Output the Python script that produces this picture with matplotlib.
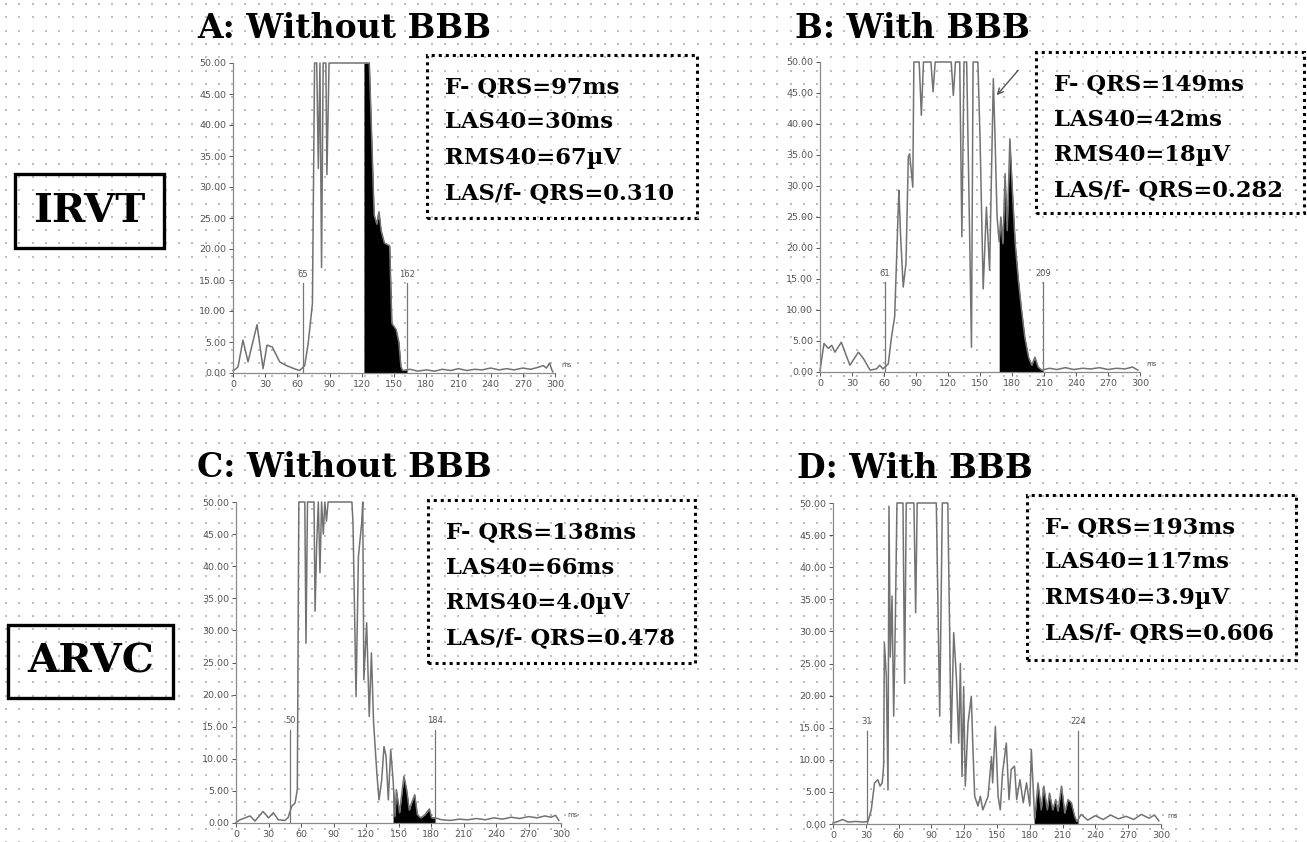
import numpy as np
import matplotlib
matplotlib.use("Agg")
import matplotlib.pyplot as plt
from matplotlib.patches import Rectangle

W, H = 1307, 842

# ---- data (time in ms, amplitude in uV) ----
t_a = [0, 1.5, 4.7, 9.3, 14, 22.4, 28, 31.7, 36.6, 43.5, 49.7, 57, 62, 66.8, 70, 74, 76, 78,
       79.5, 81, 82.5, 84, 86.5, 87.5, 89.5, 120.5, 127, 131.5, 134, 136, 138, 141, 146, 148,
       152, 154.5, 156.5, 158, 165, 172, 180, 188, 195, 203, 210, 218, 225, 232, 240, 248,
       255, 262, 270, 277, 284, 289, 292, 295, 297, 298]
v_a = [0.4, 0.5, 1.0, 5.3, 1.8, 7.8, 0.7, 4.5, 4.2, 1.8, 1.2, 0.7, 0.4, 1.2, 4.7, 11.2, 50, 50,
       33, 50, 17, 50, 50, 32, 50, 50, 50, 25.5, 24, 26, 23, 21, 20.5, 8,
       7, 5, 1.0, 0.4, 0.6, 0.3, 0.5, 0.3, 0.6, 0.4, 0.7, 0.4, 0.6, 0.5, 0.8, 0.5,
       0.7, 0.5, 0.8, 0.6, 0.9, 1.2, 0.8, 1.6, 0.5, 0.2]

t_b = [0, 3.75, 7.8, 11, 14, 20, 28, 36, 40.6, 47, 53, 56, 59, 64, 67, 70, 73.4, 74, 75.6,
       78, 80.6, 82.8, 84, 87, 88, 93, 95, 97, 104, 106, 108, 123, 125, 127, 131, 133, 135,
       137.5, 140.5, 142, 143.5, 148, 150, 153, 156, 159, 162.5, 164, 166, 168, 169.5, 171.5,
       173.5, 175.5, 178, 180, 183, 186, 189, 192, 195.5, 198.5, 201.5, 204.5, 208, 215,
       222, 230, 238, 246, 254, 262, 270, 278, 286, 293, 298]
v_b = [0.2, 4.6, 3.8, 4.3, 3.2, 4.8, 1.1, 3.2, 2.2, 0.3, 0.5, 1.1, 0.5, 1.3, 5.6, 8.9, 26.6, 29.3, 21.8,
       13.7, 17.5, 34.7, 35.2, 29.8, 50, 50, 41.4, 50, 50, 45.2, 50, 50, 44.6, 50, 50, 21.8, 50,
       50, 20, 4, 50, 50, 38, 13.4, 26.6, 16.4, 47.3, 38.4, 25, 21, 25, 20.7,
       32, 22.8, 37.6, 30.4, 20.7, 14.8, 9.9, 5.6, 2.4, 1.1, 2.4, 0.8, 0.3, 0.6,
       0.4, 0.7, 0.4, 0.6, 0.5, 0.7, 0.4, 0.6, 0.5, 0.8, 0.3]

t_c = [0, 3.7, 8.3, 13, 17.5, 25, 30, 34.5, 39, 45, 48, 51.4, 54.5, 56.6, 58, 63.5, 64.6, 66,
       72, 73, 74.5, 76, 77.5, 79, 80.6, 82, 83.5, 85, 107, 108, 110.8, 113, 116, 117, 118, 120.6,
       123, 125, 127, 130, 132, 134.5, 136.6, 138.5, 140.6, 142.8, 145, 146.8, 148, 151, 155,
       157.5, 160, 162, 165, 167.4, 170.5, 174.5, 178.5, 180.6, 183.7, 190, 198, 206, 214,
       222, 230, 238, 246, 254, 262, 270, 278, 285, 291, 295, 298]
v_c = [0.1, 0.5, 0.8, 1.1, 0.3, 1.8, 0.8, 1.6, 0.5, 0.4, 0.8, 2.6, 3.1, 5.2, 50, 50, 28, 50,
       50, 33, 43.6, 50, 39, 50, 45, 50, 47, 50, 50, 46.7, 19.7, 41.5, 46.7, 50, 22.3, 31.2,
       16.6, 26.5, 15.6, 7.8, 3.6, 6.7, 11.9, 10.4, 3.6, 11.4, 6.7, 1.0, 5.2, 1.6, 7.3,
       5.2, 2.0, 3.1, 4.4, 1.3, 0.8, 1.3, 2.2, 0.8, 0.8, 0.5, 0.4, 0.6, 0.5,
       0.7, 0.5, 0.8, 0.6, 0.9, 0.7, 1.0, 0.8, 1.1, 0.9, 1.2, 0.4]

t_d = [0, 4.6, 9, 13.7, 21, 27.4, 32, 35, 38, 41, 43, 45, 46.3, 47, 48.8, 50.3, 51.2, 52.4, 54,
       55.5, 57, 58.5, 64, 65.5, 67, 74, 75.6, 77, 94.5, 97.6, 100, 105, 106.7, 108, 110.4,
       112.8, 115, 116.5, 118, 119.5, 121, 123.5, 126.5, 128, 129.6, 132.6, 134.8, 137, 139.6,
       141.8, 145, 146, 148.5, 151, 153, 155, 158.5, 161, 163, 166, 168, 171, 174, 177, 180,
       181.4, 184.5, 187.5, 190.5, 192.7, 196, 198, 201, 203.7, 205.8, 209, 212, 215, 218,
       221, 223, 227, 233, 240, 247, 254, 261, 268, 275, 282, 289, 294, 298]
v_d = [0.15, 0.4, 0.7, 0.3, 0.4, 0.3, 0.4, 2.2, 6.4, 6.9, 5.9, 6.4, 9, 28.2, 23, 5.3, 49.5, 26, 35.5,
       16.8, 31.3, 50, 50, 21.9, 50, 50, 32.9, 50, 50, 16.8, 50, 50, 29.8, 12.6, 29.8,
       23, 12.6, 25, 7.4, 21.4, 5.9, 15.7, 19.9, 11.6, 4.3, 2.8, 4.3, 2.2, 3.3,
       4.3, 10.5, 6.4, 15.2, 4.3, 2.2, 7.9, 12.6, 3.8, 8.5, 9, 3.8, 6.9, 3.3, 6.4, 2.8,
       11.6, 0.7, 6.4, 2.2, 5.9, 2.2, 4.8, 2.2, 3.8, 2.0, 5.9, 1.7, 3.8, 3.3,
       1.2, 0.4, 1.5, 0.6, 1.3, 0.7, 1.4, 0.8, 1.2, 0.7, 1.5, 0.9, 1.4, 0.5]

titles = ["A: Without BBB", "B: With BBB", "C: Without BBB", "D: With BBB"]
onsets = [65, 61, 50, 31]
offsets = [162, 209, 184, 224]
las_start = [122, 168, 145, 184]
stats = [
    ["F- QRS=97ms", "LAS40=30ms", "RMS40=67\u00b5V", "LAS/f- QRS=0.310"],
    ["F- QRS=149ms", "LAS40=42ms", "RMS40=18\u00b5V", "LAS/f- QRS=0.282"],
    ["F- QRS=138ms", "LAS40=66ms", "RMS40=4.0\u00b5V", "LAS/f- QRS=0.478"],
    ["F- QRS=193ms", "LAS40=117ms", "RMS40=3.9\u00b5V", "LAS/f- QRS=0.606"],
]
groups = ["IRVT", "ARVC"]

traces = [(t_a, v_a), (t_b, v_b), (t_c, v_c), (t_d, v_d)]

# ---- layout in pixels ----
# (x at 0 ms, x at 300 ms, y at 0, y at 50)
frames = [(233, 555, 373, 63), (820, 1140, 372, 62), (236, 561, 823, 502), (833, 1161, 824, 503)]
title_pos = [(197, 38), (795, 38), (197, 477), (797, 478)]
boxes = [(427, 55, 697, 218), (1036, 52, 1304, 213), (428, 500, 695, 663), (1027, 495, 1296, 660)]
group_boxes = [(15, 174, 164, 248), (8, 625, 173, 698)]

serif = "DejaVu Serif"
fig = plt.figure(figsize=(W / 100, H / 100), dpi=100)
fig.patch.set_facecolor("white")


def fx(x):
    return x / W


def fy(y):
    return 1 - y / H


# background dotted lattice
bg = fig.add_axes([0, 0, 1, 1])
bg.set_xlim(0, W)
bg.set_ylim(H, 0)
bg.axis("off")
gx, gy = np.meshgrid(np.arange(6, W, 13.3), np.arange(4, H, 13.3))
bg.scatter(gx.ravel(), gy.ravel(), s=0.7, c="#bdbdbd", marker="s", linewidths=0)

for i, (t, v) in enumerate(traces):
    x0, x1, y0, y1 = frames[i]
    ax = fig.add_axes([fx(x0), fy(y0), (x1 - x0) / W, (y0 - y1) / H])
    ax.patch.set_alpha(0)
    t = np.array(t)
    v = np.array(v)
    ax.set_xlim(0, 300)
    ax.set_ylim(0, 50)
    for s in ["top", "right"]:
        ax.spines[s].set_visible(False)
    for s in ["left", "bottom"]:
        ax.spines[s].set_color("#8a8a8a")
        ax.spines[s].set_linewidth(0.9)
    ax.set_xticks(np.arange(0, 301, 30))
    ax.set_yticks(np.arange(0, 51, 5))
    ax.set_yticklabels(["%.2f" % y for y in np.arange(0, 51, 5)])
    ax.tick_params(labelsize=6.8, colors="#555555", length=3, width=0.7, pad=2)

    # late potential region filled black
    tt = np.linspace(las_start[i], offsets[i], 400)
    ax.fill_between(tt, np.interp(tt, t, v), 0, color="black", lw=0)
    ax.plot(t, v, color="#727272", lw=1.1, clip_on=False)

    # onset / offset markers
    for m in (onsets[i], offsets[i]):
        ax.plot([m, m], [0, 14.5], color="#777777", lw=0.9)
        ax.text(m, 15.2, str(m), fontsize=6, color="#555555", ha="center", va="bottom")
    ax.text(306, 0.8, "ms", fontsize=5, color="#555555", ha="left", va="bottom")

    if i == 1:
        ax.annotate("", xy=(164, 44.3), xytext=(187.5, 49), annotation_clip=False,
                    arrowprops=dict(arrowstyle="->", color="#555555", lw=1.0))

    # title
    tx, ty = title_pos[i]
    fig.text(fx(tx), fy(ty), titles[i], family=serif, weight="bold", fontsize=23.8,
             ha="left", va="baseline")

    # stats box
    bx0, by0, bx1, by1 = boxes[i]
    fig.patches.append(Rectangle((fx(bx0), fy(by1)), (bx1 - bx0) / W, (by1 - by0) / H,
                                 transform=fig.transFigure, fill=False, ec="black",
                                 lw=2.2, ls=(0, (1, 1.3))))
    for k, line in enumerate(stats[i]):
        fig.text(fx(bx0 + 18), fy(by0 + 32 + 35.5 * k), line, family=serif,
                 weight="bold", fontsize=16.3, ha="left", va="center")

for g, (gx0, gy0, gx1, gy1) in zip(groups, group_boxes):
    fig.patches.append(Rectangle((fx(gx0), fy(gy1)), (gx1 - gx0) / W, (gy1 - gy0) / H,
                                 transform=fig.transFigure, fill=False, ec="black", lw=2.4))
    fig.text(fx((gx0 + gx1) / 2), fy((gy0 + gy1) / 2), g, family=serif, weight="bold",
             fontsize=29, ha="center", va="center")

fig.savefig("out.png", dpi=100)
